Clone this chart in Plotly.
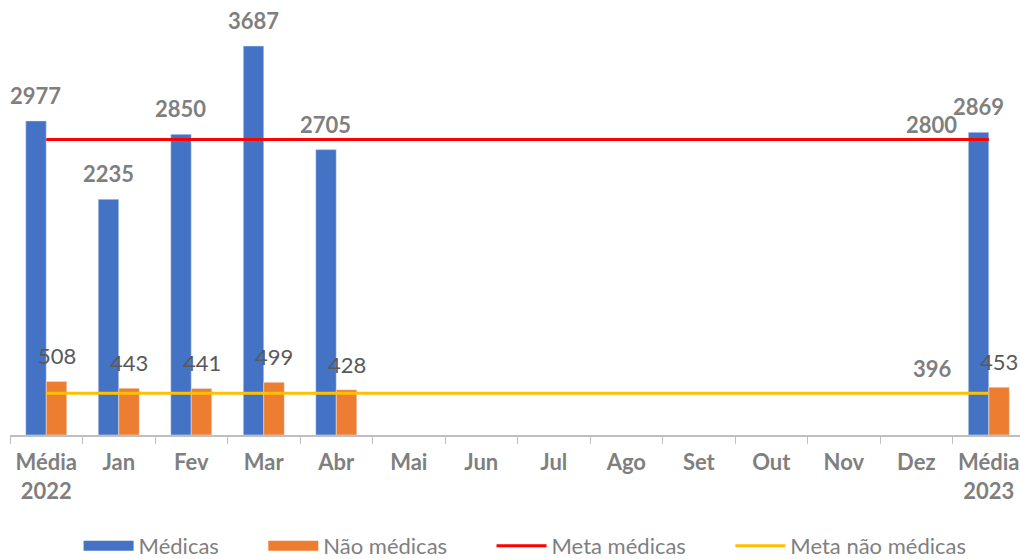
import plotly.graph_objects as go

categories = ["Média<br>2022", "Jan", "Fev", "Mar", "Abr", "Mai", "Jun", "Jul",
              "Ago", "Set", "Out", "Nov", "Dez", "Média<br>2023"]
medicas = [2977, 2235, 2850, 3687, 2705, None, None, None, None, None, None, None, None, 2869]
nao_medicas = [508, 443, 441, 499, 428, None, None, None, None, None, None, None, None, 453]
meta_medicas = 2800
meta_nao_medicas = 396

BLUE = "#4472C4"
ORANGE = "#ED7D31"
RED = "#FF0000"
YELLOW = "#FFC000"
GRAY = "#7f7f7f"
DARK = "#595959"
FONT = "Lato"
NB = "\u00a0"

fig = go.Figure()
fig.add_trace(go.Bar(x=categories, y=medicas, name="Médicas", marker_color=BLUE,
                     showlegend=False))
fig.add_trace(go.Bar(x=categories, y=nao_medicas, name="Não médicas", marker_color=ORANGE,
                     showlegend=False))
# legend swatches (wide rectangles like the reference)
fig.add_trace(go.Scatter(x=[None], y=[None], mode="lines", name="Médicas" + NB * 7,
                         line=dict(color=BLUE, width=10)))
fig.add_trace(go.Scatter(x=[None], y=[None], mode="lines", name="Não médicas" + NB * 7,
                         line=dict(color=ORANGE, width=10)))
fig.add_trace(go.Scatter(x=[categories[0], categories[-1]], y=[meta_medicas, meta_medicas],
                         mode="lines", name="Meta médicas" + NB * 7,
                         line=dict(color=RED, width=3)))
fig.add_trace(go.Scatter(x=[categories[0], categories[-1]], y=[meta_nao_medicas, meta_nao_medicas],
                         mode="lines", name="Meta não médicas",
                         line=dict(color=YELLOW, width=3)))

annotations = []
for c, v in zip(categories, medicas):
    if v is not None:
        annotations.append(dict(x=c, y=v, text=f"<b>{v}</b>", showarrow=False,
                                xshift=-10.3, yshift=10, yanchor="bottom",
                                font=dict(family=FONT, size=22, color=GRAY)))
for c, v in zip(categories, nao_medicas):
    if v is not None:
        annotations.append(dict(x=c, y=v, text=f"{v}", showarrow=False,
                                xshift=10.3, yshift=10, yanchor="bottom",
                                font=dict(family=FONT, size=22, color=DARK)))
annotations.append(dict(x=categories[-1], y=meta_medicas, text=f"<b>{meta_medicas}</b>",
                        showarrow=False, xanchor="right", yanchor="bottom",
                        xshift=-30, yshift=0,
                        font=dict(family=FONT, size=22, color=GRAY)))
annotations.append(dict(x=categories[-1], y=meta_nao_medicas, text=f"<b>{meta_nao_medicas}</b>",
                        showarrow=False, xanchor="right", yanchor="bottom",
                        xshift=-35, yshift=9,
                        font=dict(family=FONT, size=22, color=GRAY)))

fig.update_layout(
    width=1020, height=559,
    margin=dict(l=10, r=0, t=0, b=124),
    plot_bgcolor="white", paper_bgcolor="white",
    barmode="group", bargap=0.434, bargroupgap=0,
    font=dict(family=FONT, color=GRAY),
    annotations=annotations,
    legend=dict(orientation="h", x=0.51, xanchor="center",
                yref="container", y=1 - 546 / 559, yanchor="middle",
                font=dict(family=FONT, size=22, color=GRAY), itemwidth=50,
                traceorder="normal"),
    showlegend=True,
)
fig.update_xaxes(type="category", range=[-0.5, 13.43], showline=True, linecolor="#bfbfbf",
                 linewidth=1.5, ticks="outside", ticklen=7, tickcolor="#bfbfbf",
                 tickson="boundaries", showgrid=False, ticklabelstandoff=7,
                 tickfont=dict(family=FONT, size=22, color=GRAY, weight="bold"))
fig.update_yaxes(range=[0, 4123], visible=False, showgrid=False)

fig.write_html("out.html", config={"displayModeBar": False},
               post_script="document.body.style.margin='0';")
